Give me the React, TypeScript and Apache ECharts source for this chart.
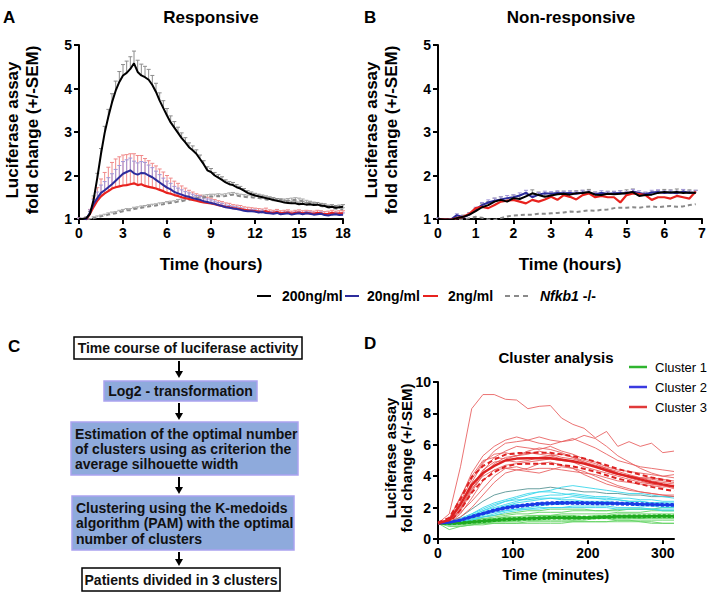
import React, { useEffect, useRef } from 'react';
import * as echarts from 'echarts';

const FONT = '"Liberation Sans", Arial, Helvetica, sans-serif';

// ---------- Panel A (Responsive), every 0.25 h ----------
const hoursA = Array.from({ length: 73 }, (_, i) => i * 0.25);
const a200 = [
  1.00, 1.00, 1.02, 1.12, 1.45, 1.95, 2.50, 2.98, 3.35, 3.68, 3.95, 4.15,
  4.30, 4.36, 4.45, 4.58, 4.38, 4.30, 4.26, 4.20, 4.08, 3.92, 3.72, 3.55,
  3.38, 3.22, 3.10, 2.98, 2.86, 2.76, 2.65, 2.58, 2.50, 2.38, 2.26, 2.12,
  2.08, 2.00, 1.95, 1.90, 1.84, 1.80, 1.78, 1.73, 1.70, 1.65, 1.60, 1.57,
  1.54, 1.52, 1.50, 1.48, 1.46, 1.44, 1.42, 1.40, 1.38, 1.37, 1.36, 1.36,
  1.34, 1.35, 1.33, 1.34, 1.32, 1.33, 1.31, 1.30, 1.27, 1.28, 1.26, 1.27,
  1.28,
];
const a200Sem = [
  0.02, 0.02, 0.03, 0.05, 0.08, 0.10, 0.12, 0.15, 0.17, 0.20, 0.22, 0.24,
  0.25, 0.27, 0.28, 0.28, 0.27, 0.26, 0.25, 0.24, 0.22, 0.20, 0.18, 0.17,
  0.16, 0.15, 0.14, 0.13, 0.12, 0.11, 0.10, 0.10, 0.09, 0.09, 0.08, 0.08,
  0.08, 0.07, 0.07, 0.07, 0.06, 0.06, 0.06, 0.06, 0.05, 0.05, 0.05, 0.05,
  0.05, 0.05, 0.05, 0.05, 0.05, 0.05, 0.05, 0.05, 0.05, 0.05, 0.05, 0.05,
  0.05, 0.05, 0.05, 0.05, 0.05, 0.05, 0.05, 0.05, 0.05, 0.05, 0.05, 0.05,
  0.05,
];
const a20 = [
  1.00, 0.99, 1.00, 1.15, 1.35, 1.48, 1.60, 1.66, 1.73, 1.80, 1.88, 1.96,
  2.04, 2.08, 2.12, 2.05, 2.02, 2.06, 2.05, 2.00, 1.96, 1.90, 1.84, 1.78,
  1.72, 1.68, 1.62, 1.59, 1.56, 1.53, 1.51, 1.48, 1.46, 1.44, 1.41, 1.39,
  1.37, 1.35, 1.32, 1.30, 1.27, 1.26, 1.24, 1.23, 1.21, 1.19, 1.18, 1.18,
  1.17, 1.15, 1.16, 1.14, 1.13, 1.12, 1.14, 1.11, 1.12, 1.13, 1.10, 1.12,
  1.13, 1.11, 1.13, 1.12, 1.10, 1.11, 1.12, 1.09, 1.08, 1.10, 1.11, 1.09,
  1.10,
];
const a20Sem = [
  0.02, 0.02, 0.03, 0.06, 0.10, 0.14, 0.18, 0.20, 0.22, 0.24, 0.26, 0.27,
  0.28, 0.28, 0.28, 0.28, 0.27, 0.26, 0.25, 0.24, 0.22, 0.20, 0.18, 0.16,
  0.15, 0.14, 0.13, 0.12, 0.11, 0.10, 0.09, 0.09, 0.08, 0.08, 0.07, 0.07,
  0.07, 0.06, 0.06, 0.06, 0.05, 0.05, 0.05, 0.05, 0.05, 0.04, 0.04, 0.04,
  0.04, 0.04, 0.04, 0.04, 0.04, 0.04, 0.04, 0.04, 0.04, 0.04, 0.04, 0.04,
  0.04, 0.04, 0.04, 0.04, 0.04, 0.04, 0.04, 0.04, 0.04, 0.04, 0.04, 0.04,
  0.04,
];
const a2 = [
  1.00, 0.98, 0.99, 1.12, 1.28, 1.42, 1.52, 1.59, 1.64, 1.70, 1.73, 1.75,
  1.77, 1.78, 1.80, 1.82, 1.78, 1.80, 1.76, 1.74, 1.72, 1.70, 1.67, 1.64,
  1.60, 1.58, 1.55, 1.53, 1.50, 1.48, 1.46, 1.44, 1.42, 1.40, 1.38, 1.37,
  1.36, 1.34, 1.32, 1.30, 1.28, 1.27, 1.25, 1.24, 1.23, 1.21, 1.20, 1.19,
  1.18, 1.17, 1.16, 1.18, 1.15, 1.14, 1.16, 1.13, 1.14, 1.15, 1.12, 1.14,
  1.15, 1.13, 1.14, 1.13, 1.12, 1.14, 1.13, 1.11, 1.12, 1.14, 1.12, 1.13,
  1.13,
];
const a2Sem = [
  0.02, 0.02, 0.04, 0.10, 0.20, 0.30, 0.40, 0.48, 0.55, 0.60, 0.65, 0.68,
  0.70, 0.70, 0.70, 0.68, 0.68, 0.66, 0.63, 0.60, 0.56, 0.52, 0.48, 0.44,
  0.40, 0.36, 0.32, 0.29, 0.26, 0.23, 0.20, 0.18, 0.16, 0.15, 0.14, 0.13,
  0.12, 0.11, 0.10, 0.10, 0.09, 0.09, 0.08, 0.08, 0.08, 0.07, 0.07, 0.07,
  0.07, 0.07, 0.07, 0.07, 0.06, 0.06, 0.06, 0.06, 0.06, 0.06, 0.06, 0.06,
  0.06, 0.06, 0.06, 0.06, 0.06, 0.06, 0.06, 0.06, 0.06, 0.06, 0.06, 0.06,
  0.06,
];
const aKo = [
  1.00, 0.98, 0.97, 0.99, 1.02, 1.04, 1.06, 1.08, 1.10, 1.12, 1.13, 1.16,
  1.18, 1.20, 1.20, 1.23, 1.24, 1.26, 1.27, 1.29, 1.30, 1.31, 1.33, 1.34,
  1.36, 1.37, 1.38, 1.40, 1.41, 1.43, 1.44, 1.46, 1.48, 1.49, 1.50, 1.51,
  1.52, 1.52, 1.53, 1.52, 1.53, 1.55, 1.56, 1.54, 1.52, 1.51, 1.50, 1.50,
  1.49, 1.48, 1.47, 1.45, 1.44, 1.43, 1.42, 1.42, 1.41, 1.42, 1.43, 1.44,
  1.43, 1.41, 1.38, 1.36, 1.34, 1.32, 1.30, 1.28, 1.27, 1.25, 1.24, 1.23,
  1.22,
];
const aKoSem = [
  0.01, 0.02, 0.02, 0.02, 0.03, 0.03, 0.03, 0.03, 0.04, 0.04, 0.04, 0.04,
  0.04, 0.04, 0.04, 0.04, 0.04, 0.04, 0.04, 0.04, 0.04, 0.04, 0.04, 0.04,
  0.04, 0.04, 0.04, 0.05, 0.05, 0.05, 0.05, 0.05, 0.05, 0.05, 0.05, 0.05,
  0.05, 0.05, 0.05, 0.05, 0.05, 0.05, 0.05, 0.05, 0.05, 0.05, 0.05, 0.05,
  0.05, 0.05, 0.05, 0.05, 0.05, 0.05, 0.05, 0.05, 0.05, 0.05, 0.05, 0.05,
  0.05, 0.05, 0.05, 0.05, 0.05, 0.05, 0.05, 0.04, 0.04, 0.04, 0.04, 0.04,
  0.04,
];

// ---------- Panel B (Non-responsive), every 10 min ----------
const hoursB = Array.from({ length: 42 }, (_, i) => i / 6);
const b200 = [
  1.00, 0.99, 0.98, 1.02, 1.05, 1.10, 1.18, 1.27, 1.32, 1.40, 1.44, 1.40,
  1.48, 1.46, 1.52, 1.59, 1.55, 1.51, 1.54, 1.57, 1.58, 1.56, 1.59, 1.60,
  1.62, 1.56, 1.55, 1.58, 1.57, 1.58, 1.60, 1.62, 1.53, 1.55, 1.56, 1.60,
  1.62, 1.61, 1.62, 1.60, 1.61, 1.60,
];
const b200Sem = [
  0.02, 0.02, 0.02, 0.03, 0.04, 0.05, 0.06, 0.08, 0.08, 0.08, 0.07, 0.07,
  0.07, 0.08, 0.08, 0.08, 0.07, 0.07, 0.06, 0.06, 0.06, 0.06, 0.06, 0.06,
  0.06, 0.06, 0.06, 0.06, 0.06, 0.07, 0.07, 0.07, 0.06, 0.06, 0.06, 0.06,
  0.06, 0.06, 0.07, 0.07, 0.06, 0.06,
];
const b20 = [
  1.00, 0.99, 0.98, 1.09, 1.04, 1.10, 1.22, 1.32, 1.38, 1.42, 1.45, 1.48,
  1.50, 1.54, 1.60, 1.50, 1.56, 1.59, 1.58, 1.60, 1.59, 1.60, 1.58, 1.61,
  1.60, 1.57, 1.60, 1.58, 1.59, 1.60, 1.58, 1.63, 1.60, 1.57, 1.61, 1.62,
  1.60, 1.61, 1.59, 1.63, 1.60, 1.61,
];
const b20Sem = [
  0.02, 0.02, 0.02, 0.03, 0.03, 0.04, 0.05, 0.06, 0.06, 0.06, 0.06, 0.06,
  0.06, 0.06, 0.06, 0.05, 0.05, 0.05, 0.05, 0.05, 0.05, 0.05, 0.05, 0.05,
  0.05, 0.05, 0.05, 0.05, 0.05, 0.05, 0.05, 0.05, 0.05, 0.05, 0.05, 0.05,
  0.05, 0.05, 0.05, 0.05, 0.05, 0.05,
];
const b2 = [
  1.00, 0.99, 0.98, 1.02, 1.05, 1.12, 1.25, 1.28, 1.25, 1.32, 1.40, 1.42,
  1.44, 1.40, 1.36, 1.44, 1.40, 1.45, 1.51, 1.44, 1.55, 1.51, 1.45, 1.55,
  1.59, 1.50, 1.53, 1.50, 1.50, 1.38, 1.55, 1.59, 1.57, 1.55, 1.44, 1.50,
  1.50, 1.47, 1.53, 1.50, 1.47, 1.63,
];
const bKo = [
  1.00, 0.99, 0.98, 0.99, 0.99, 1.02, 1.05, 1.03, 0.99, 0.98, 1.02, 1.06,
  1.08, 1.09, 1.10, 1.10, 1.12, 1.12, 1.13, 1.14, 1.15, 1.17, 1.16, 1.18,
  1.20, 1.19, 1.21, 1.22, 1.25, 1.26, 1.26, 1.27, 1.26, 1.28, 1.29, 1.27,
  1.29, 1.30, 1.28, 1.29, 1.32, 1.34,
];

// ---------- Panel D (Cluster analysis), every 15 min ----------
const minutesD = Array.from({ length: 22 }, (_, i) => i * 15);
const redPatients = [
  [1.0, 1.6, 4.6, 8.3, 9.2, 9.2, 8.9, 8.85, 8.3, 8.45, 8.5, 7.7, 7.3, 7.05, 6.45, 6.85, 5.9, 6.2, 5.9, 6.1, 5.5, 5.6],
  [1.0, 1.3, 2.6, 4.2, 5.3, 5.9, 6.3, 6.5, 6.3, 6.5, 6.3, 6.2, 6.4, 6.1, 5.8, 5.4, 5.0, 4.8, 4.6, 4.5, 4.4, 4.3],
  [1.0, 1.2, 2.2, 3.6, 4.8, 5.6, 6.1, 6.2, 6.3, 6.1, 6.0, 6.2, 6.3, 6.6, 6.4, 5.9, 5.3, 4.9, 4.5, 4.2, 4.0, 3.9],
  [1.0, 1.1, 1.9, 3.1, 4.3, 5.2, 5.6, 5.9, 5.8, 5.7, 5.9, 5.6, 5.4, 5.1, 4.9, 4.6, 4.4, 4.3, 4.2, 4.1, 4.0, 4.1],
  [1.0, 1.2, 2.4, 3.8, 4.9, 5.4, 5.5, 5.3, 5.4, 5.6, 5.4, 5.2, 5.1, 4.9, 4.7, 4.5, 4.3, 4.1, 3.9, 3.8, 3.7, 3.6],
  [1.0, 1.1, 1.8, 3.0, 4.1, 4.8, 5.2, 5.3, 5.5, 5.4, 5.3, 5.4, 5.2, 5.0, 4.8, 4.5, 4.2, 4.0, 3.9, 3.7, 3.6, 3.5],
  [1.0, 1.0, 1.6, 2.6, 3.7, 4.4, 4.7, 4.8, 4.9, 5.0, 5.1, 5.0, 4.9, 4.8, 4.6, 4.4, 4.2, 3.9, 3.7, 3.5, 3.4, 3.3],
  [1.0, 1.2, 2.0, 3.2, 4.0, 4.4, 4.5, 4.6, 4.4, 4.5, 4.5, 4.4, 4.3, 4.2, 4.1, 3.9, 3.7, 3.6, 3.5, 3.4, 3.3, 3.4],
  [1.0, 1.1, 1.7, 2.4, 3.2, 4.0, 4.5, 4.4, 4.3, 4.2, 4.4, 4.6, 4.5, 4.3, 4.0, 3.7, 3.4, 3.2, 3.0, 2.9, 2.8, 2.8],
  [1.0, 1.0, 1.4, 2.0, 2.8, 3.6, 4.2, 4.4, 4.5, 4.8, 4.9, 4.7, 4.5, 4.1, 3.8, 3.5, 3.3, 3.1, 3.0, 2.9, 2.8, 2.7],
  [1.0, 1.3, 2.7, 4.0, 5.0, 5.2, 5.1, 5.3, 5.6, 5.8, 5.7, 5.5, 5.2, 4.9, 4.6, 4.3, 4.1, 4.0, 3.9, 3.9, 3.8, 3.7],
  [1.0, 1.1, 1.9, 3.3, 4.4, 4.9, 5.0, 4.9, 5.0, 5.2, 5.3, 5.1, 4.9, 4.6, 4.4, 4.2, 4.0, 3.8, 3.6, 3.5, 3.4, 3.2],
];
const cyanPatients = [
  [1.0, 1.1, 1.4, 1.9, 2.4, 2.8, 3.0, 3.1, 3.2, 3.2, 3.3, 3.2, 3.1, 3.0, 3.0, 2.9, 2.9, 2.8, 2.8, 2.7, 2.7, 2.7],
  [1.0, 1.0, 1.2, 1.5, 1.8, 2.1, 2.4, 2.6, 2.8, 3.0, 3.1, 3.3, 3.4, 3.3, 3.2, 3.1, 3.0, 2.9, 2.9, 2.8, 2.7, 2.6],
  [1.0, 1.0, 1.1, 1.3, 1.6, 1.9, 2.1, 2.3, 2.4, 2.5, 2.6, 2.6, 2.7, 2.6, 2.6, 2.5, 2.5, 2.4, 2.4, 2.3, 2.3, 2.3],
  [1.0, 1.1, 1.3, 1.6, 1.9, 2.2, 2.4, 2.5, 2.5, 2.6, 2.6, 2.5, 2.5, 2.4, 2.4, 2.4, 2.3, 2.3, 2.2, 2.2, 2.2, 2.1],
  [1.0, 0.9, 1.0, 1.2, 1.4, 1.6, 1.8, 1.9, 2.0, 2.1, 2.2, 2.2, 2.3, 2.3, 2.3, 2.2, 2.2, 2.2, 2.1, 2.1, 2.0, 2.0],
  [1.0, 1.0, 1.2, 1.4, 1.7, 1.9, 2.1, 2.2, 2.2, 2.3, 2.3, 2.4, 2.4, 2.3, 2.3, 2.3, 2.3, 2.2, 2.2, 2.2, 2.1, 2.1],
  [1.0, 1.0, 1.1, 1.3, 1.5, 1.7, 1.8, 1.9, 1.9, 2.0, 2.0, 2.0, 2.0, 2.0, 2.0, 2.0, 1.9, 1.9, 1.9, 1.9, 1.8, 1.8],
  [1.0, 1.1, 1.2, 1.5, 1.8, 2.0, 2.2, 2.4, 2.6, 2.7, 2.8, 2.8, 2.9, 2.8, 2.7, 2.7, 2.6, 2.6, 2.5, 2.5, 2.4, 2.4],
  [1.0, 1.0, 1.1, 1.2, 1.4, 1.5, 1.7, 1.8, 1.9, 1.9, 2.0, 2.0, 2.1, 2.1, 2.1, 2.1, 2.0, 2.0, 2.0, 1.9, 1.9, 1.9],
  [1.0, 1.0, 1.3, 1.6, 2.0, 2.3, 2.5, 2.7, 2.9, 3.0, 3.0, 2.9, 2.8, 2.7, 2.6, 2.6, 2.5, 2.4, 2.4, 2.3, 2.3, 2.2],
];
const greenPatients = [
  [1.0, 0.6, 0.8, 0.9, 1.0, 1.1, 1.1, 1.2, 1.2, 1.2, 1.3, 1.3, 1.2, 1.3, 1.3, 1.3, 1.2, 1.2, 1.1, 1.1, 1.0, 1.0],
  [1.0, 1.0, 1.1, 1.2, 1.3, 1.4, 1.5, 1.6, 1.6, 1.7, 1.7, 1.7, 1.8, 1.8, 1.8, 1.8, 1.9, 1.9, 1.9, 1.9, 2.0, 2.0],
  [1.0, 0.9, 0.9, 1.0, 1.0, 1.1, 1.1, 1.1, 1.2, 1.2, 1.2, 1.2, 1.2, 1.2, 1.3, 1.3, 1.3, 1.3, 1.3, 1.4, 1.4, 1.4],
  [1.0, 1.0, 1.0, 1.1, 1.2, 1.3, 1.4, 1.4, 1.5, 1.5, 1.5, 1.6, 1.6, 1.6, 1.6, 1.6, 1.7, 1.7, 1.7, 1.8, 1.8, 1.8],
  [1.0, 0.9, 0.9, 0.9, 1.0, 1.0, 1.0, 1.0, 1.1, 1.1, 1.1, 1.1, 1.1, 1.1, 1.1, 1.1, 1.2, 1.2, 1.2, 1.2, 1.2, 1.2],
  [1.0, 1.0, 1.1, 1.2, 1.3, 1.3, 1.4, 1.4, 1.4, 1.5, 1.5, 1.5, 1.5, 1.4, 1.5, 1.5, 1.6, 1.6, 1.6, 1.6, 1.6, 1.6],
  [1.0, 0.9, 1.0, 1.0, 1.1, 1.1, 1.2, 1.2, 1.3, 1.3, 1.4, 1.4, 1.3, 1.4, 1.4, 1.4, 1.5, 1.5, 1.5, 1.5, 1.5, 1.5],
  [1.0, 1.1, 1.2, 1.3, 1.4, 1.5, 1.6, 1.7, 1.8, 1.8, 1.9, 1.9, 1.9, 1.9, 1.8, 1.8, 1.8, 1.9, 1.9, 1.9, 1.8, 1.8],
  [1.0, 0.8, 0.8, 0.9, 0.9, 1.0, 1.0, 1.0, 1.0, 1.0, 1.0, 1.0, 1.1, 1.1, 1.1, 1.1, 1.1, 1.1, 1.1, 1.0, 1.0, 1.0],
  [1.0, 1.0, 1.0, 1.1, 1.1, 1.2, 1.3, 1.3, 1.3, 1.4, 1.4, 1.4, 1.4, 1.4, 1.3, 1.4, 1.4, 1.4, 1.3, 1.3, 1.3, 1.3],
];
const redMean = [1.0, 1.2, 2.2, 3.45, 4.2, 4.65, 5.0, 5.12, 5.14, 5.15, 5.14, 5.05, 4.95, 4.8, 4.6, 4.38, 4.15, 3.98, 3.8, 3.62, 3.48, 3.35];
const redSem = [0.05, 0.15, 0.35, 0.5, 0.45, 0.4, 0.38, 0.35, 0.35, 0.35, 0.35, 0.34, 0.33, 0.33, 0.32, 0.32, 0.31, 0.3, 0.3, 0.3, 0.3, 0.3];
const blueMean = [1.0, 1.05, 1.2, 1.42, 1.62, 1.82, 1.98, 2.08, 2.17, 2.24, 2.28, 2.3, 2.3, 2.29, 2.28, 2.27, 2.26, 2.24, 2.22, 2.2, 2.18, 2.17];
const blueSem = [0.01, 0.03, 0.04, 0.05, 0.05, 0.06, 0.06, 0.06, 0.06, 0.06, 0.06, 0.06, 0.06, 0.06, 0.06, 0.06, 0.06, 0.06, 0.06, 0.06, 0.06, 0.06];
const greenMean = [1.0, 0.98, 1.02, 1.08, 1.14, 1.2, 1.25, 1.28, 1.3, 1.33, 1.35, 1.35, 1.36, 1.36, 1.37, 1.4, 1.43, 1.44, 1.44, 1.45, 1.46, 1.45];
const greenSem = [0.01, 0.03, 0.04, 0.04, 0.05, 0.05, 0.05, 0.05, 0.05, 0.05, 0.05, 0.05, 0.05, 0.05, 0.05, 0.05, 0.05, 0.05, 0.05, 0.05, 0.05, 0.05];

const ticksD = [0, 100, 200, 300];

const legendTop = ['200ng/ml', '20ng/ml', '2ng/ml'];
const legendD = ['Cluster 1', 'Cluster 2', 'Cluster 3'];

// ---------- helpers ----------
const pairs = (xs: number[], ys: number[]) => xs.map((x, i) => [x, ys[i]]);
const triples = (xs: number[], ys: number[], es: number[]) => xs.map((x, i) => [x, ys[i], es[i]]);

function axisStyle(extra: any) {
  return {
    type: 'value',
    axisLine: { show: true, onZero: false, lineStyle: { color: '#000', width: 2 } },
    axisTick: { show: true, inside: false, length: 5, lineStyle: { color: '#000', width: 2 } },
    axisLabel: { color: '#000', fontFamily: FONT, fontWeight: 'bold', fontSize: 14, margin: 7 },
    splitLine: { show: false },
    ...extra,
  };
}

function line(gi: number, data: any[], color: string, width: number, z: number, dashed?: any) {
  return {
    type: 'line',
    xAxisIndex: gi,
    yAxisIndex: gi,
    data,
    showSymbol: false,
    symbol: 'none',
    silent: true,
    animation: false,
    z,
    lineStyle: { color, width, type: dashed || 'solid' },
  };
}

function errBars(gi: number, data: any[], color: string, z: number) {
  return {
    type: 'custom',
    xAxisIndex: gi,
    yAxisIndex: gi,
    data,
    silent: true,
    z,
    encode: { x: 0, y: 1 },
    renderItem: (params: any, api: any) => {
      const x = api.value(0);
      const v = api.value(1);
      const s = api.value(2);
      const p0 = api.coord([x, v]);
      const p1 = api.coord([x, v + s]);
      return {
        type: 'group',
        children: [
          { type: 'line', shape: { x1: p0[0], y1: p0[1], x2: p1[0], y2: p1[1] }, style: { stroke: color, lineWidth: 1 } },
          { type: 'line', shape: { x1: p1[0] - 2, y1: p1[1], x2: p1[0] + 2, y2: p1[1] }, style: { stroke: color, lineWidth: 1 } },
        ],
      };
    },
  };
}

function txt(x: number, y: number, text: string, opts: any = {}) {
  const align = opts.align || 'center';
  const valign = opts.verticalAlign || 'middle';
  return {
    type: 'text',
    x,
    y,
    rotation: opts.rotation || 0,
    silent: true,
    z: 100,
    style: {
      text,
      align,
      verticalAlign: valign,
      textAlign: align,
      textVerticalAlign: valign,
      fontFamily: FONT,
      fontSize: opts.fontSize || 14,
      fontWeight: opts.fontWeight || 'bold',
      fontStyle: opts.fontStyle || 'normal',
      lineHeight: opts.lineHeight,
      fill: opts.fill || '#000',
      rich: opts.rich,
    },
  };
}

function box(x1: number, y1: number, x2: number, y2: number, fill: string, stroke: string, lw: number) {
  return {
    type: 'rect',
    silent: true,
    z: 90,
    shape: { x: x1, y: y1, width: x2 - x1, height: y2 - y1 },
    style: { fill, stroke, lineWidth: lw },
  };
}

function arrow(x: number, y1: number, y2: number) {
  return [
    { type: 'line', silent: true, z: 90, shape: { x1: x, y1, x2: x, y2: y2 - 5 }, style: { stroke: '#000', lineWidth: 2 } },
    { type: 'polygon', silent: true, z: 90, shape: { points: [[x - 4, y2 - 7], [x + 4, y2 - 7], [x, y2]] }, style: { fill: '#000' } },
  ];
}

function legLine(x1: number, x2: number, y: number, color: string, width: number, dash?: number[]) {
  return {
    type: 'line',
    silent: true,
    z: 100,
    shape: { x1, y1: y, x2, y2: y },
    style: { stroke: color, lineWidth: width, lineDash: dash },
  };
}

function buildOption() {
  const C_BLACK = '#000000';
  const C_BLUE = '#2c2c9c';
  const C_RED = '#e8221e';
  const C_GRAY = '#8a8a8a';

  const series: any[] = [];
  // Panel A
  series.push(errBars(0, triples(hoursA, aKo, aKoSem), '#a8a8a8', 2));
  series.push(errBars(0, triples(hoursA, a200, a200Sem), '#8c8c8c', 2));
  series.push(errBars(0, triples(hoursA, a2, a2Sem), '#f08a8a', 3));
  series.push(errBars(0, triples(hoursA, a20, a20Sem), '#a296d8', 3));
  series.push(line(0, pairs(hoursA, aKo), C_GRAY, 2, 4, [4, 3]));
  series.push(line(0, pairs(hoursA, a2), C_RED, 2.2, 5));
  series.push(line(0, pairs(hoursA, a20), C_BLUE, 2, 6));
  series.push(line(0, pairs(hoursA, a200), C_BLACK, 2, 7));
  // Panel B
  series.push(errBars(1, triples(hoursB, b200, b200Sem), '#8c8c8c', 2));
  series.push(errBars(1, triples(hoursB, b20, b20Sem), '#a296d8', 2));
  series.push(line(1, pairs(hoursB, bKo), C_GRAY, 2, 4, [4, 3]));
  series.push(line(1, pairs(hoursB, b20), C_BLUE, 2, 5));
  series.push(line(1, pairs(hoursB, b2), C_RED, 2.2, 6));
  series.push(line(1, pairs(hoursB, b200), C_BLACK, 2, 7));
  // Panel D
  greenPatients.forEach((p) => series.push(line(2, pairs(minutesD, p), 'rgba(100,212,100,0.9)', 1, 2)));
  cyanPatients.forEach((p, i) => series.push(line(2, pairs(minutesD, p), i === 0 ? 'rgba(90,150,150,0.9)' : 'rgba(60,215,235,0.9)', 1, 2)));
  redPatients.forEach((p) => series.push(line(2, pairs(minutesD, p), 'rgba(232,90,90,0.85)', 1, 3)));
  const up = (m: number[], s: number[]) => m.map((v, i) => v + s[i]);
  const dn = (m: number[], s: number[]) => m.map((v, i) => v - s[i]);
  series.push(line(2, pairs(minutesD, up(greenMean, greenSem)), '#1faa1f', 2, 5, [3, 2]));
  series.push(line(2, pairs(minutesD, dn(greenMean, greenSem)), '#1faa1f', 2, 5, [3, 2]));
  series.push(line(2, pairs(minutesD, greenMean), '#1faa1f', 2.5, 6));
  series.push(line(2, pairs(minutesD, up(blueMean, blueSem)), '#1a3ae6', 2, 5, [3, 2]));
  series.push(line(2, pairs(minutesD, dn(blueMean, blueSem)), '#1a3ae6', 2, 5, [3, 2]));
  series.push(line(2, pairs(minutesD, blueMean), '#1a3ae6', 2.5, 6));
  series.push(line(2, pairs(minutesD, up(redMean, redSem)), '#dd2222', 2, 5, [5, 3]));
  series.push(line(2, pairs(minutesD, dn(redMean, redSem)), '#dd2222', 2, 5, [5, 3]));
  series.push(line(2, pairs(minutesD, redMean), '#dd2222', 2.5, 6));

  const graphic: any[] = [];
  // panel letters
  graphic.push(txt(3, 17, 'A', { align: 'left', fontSize: 17 }));
  graphic.push(txt(364, 17, 'B', { align: 'left', fontSize: 17 }));
  graphic.push(txt(8, 346, 'C', { align: 'left', fontSize: 17 }));
  graphic.push(txt(364, 343, 'D', { align: 'left', fontSize: 17 }));
  // titles
  graphic.push(txt(211, 17, 'Responsive', { fontSize: 17 }));
  graphic.push(txt(571, 17, 'Non-responsive', { fontSize: 17 }));
  graphic.push(txt(556, 357, 'Cluster analysis', { fontSize: 15 }));
  // axis names
  const yName = 'Luciferase assay\nfold change (+/-SEM)';
  graphic.push(txt(22, 130, yName, { fontSize: 17, lineHeight: 20, rotation: Math.PI / 2 }));
  graphic.push(txt(381, 130, yName, { fontSize: 17, lineHeight: 20, rotation: Math.PI / 2 }));
  graphic.push(txt(398, 458, yName, { fontSize: 15, lineHeight: 16, rotation: Math.PI / 2 }));
  graphic.push(txt(211, 264, 'Time (hours)', { fontSize: 17 }));
  graphic.push(txt(570, 264, 'Time (hours)', { fontSize: 17 }));
  graphic.push(txt(556, 574, 'Time (minutes)', { fontSize: 15 }));
  // top legend
  const ly = 296;
  graphic.push(legLine(257, 271, ly, C_BLACK, 2));
  graphic.push(txt(282, ly, legendTop[0], { align: 'left' }));
  graphic.push(legLine(345, 359, ly, C_BLUE, 2));
  graphic.push(txt(367, ly, legendTop[1], { align: 'left' }));
  graphic.push(legLine(423, 438, ly, C_RED, 2));
  graphic.push(txt(448, ly, legendTop[2], { align: 'left' }));
  graphic.push(legLine(505, 531, ly, C_GRAY, 2, [5, 4]));
  graphic.push(txt(540, ly, '{i|Nfkb1} -/-', {
    align: 'left',
    rich: { i: { fontStyle: 'italic', fontWeight: 'bold', fontSize: 14, fontFamily: FONT, fill: '#000' } },
  }));
  // panel D legend
  const dColors = ['#2fb52f', '#3a3ae0', '#e03a3a'];
  legendD.forEach((name, i) => {
    const y = 367 + i * 20;
    graphic.push(legLine(629, 647, y, dColors[i], 2.5));
    graphic.push(txt(655, y, name, { align: 'left', fontWeight: 'normal', fontSize: 13 }));
  });
  // flowchart (panel C)
  const BFILL = '#8eaadc';
  const BSTROKE = '#aaa2f0';
  graphic.push(box(74, 337, 302, 359, '#ffffff', '#000000', 1.5));
  graphic.push(txt(188, 348, 'Time course of luciferase activity', { fill: '#111' }));
  graphic.push(...arrow(179, 361, 378));
  graphic.push(box(104, 381, 257, 401, BFILL, BSTROKE, 1.5));
  graphic.push(txt(180.5, 391, 'Log2 - transformation', { fill: '#111' }));
  graphic.push(...arrow(179, 403, 420));
  graphic.push(box(71, 422, 298, 475, BFILL, BSTROKE, 1.5));
  graphic.push(txt(75, 448.5, 'Estimation of the optimal number\nof clusters using as criterion the\naverage silhouette width', { align: 'left', lineHeight: 15, fill: '#111' }));
  graphic.push(...arrow(179, 477, 494));
  graphic.push(box(72, 496, 294, 550, BFILL, BSTROKE, 1.5));
  graphic.push(txt(76, 523, 'Clustering using the K-medoids\nalgorithm (PAM) with the optimal\nnumber of clusters', { align: 'left', lineHeight: 15.5, fill: '#111' }));
  graphic.push(...arrow(179, 552, 566));
  graphic.push(box(82, 568, 280, 591, '#ffffff', '#000000', 1.5));
  graphic.push(txt(181, 580, 'Patients divided in 3 clusters', { fill: '#111' }));

  return {
    animation: false,
    backgroundColor: '#ffffff',
    textStyle: { fontFamily: FONT },
    grid: [
      { left: 79, top: 45, width: 264, height: 174, outerBoundsMode: 'none' },
      { left: 438, top: 45, width: 264, height: 174, outerBoundsMode: 'none' },
      { left: 438, top: 382, width: 236, height: 157, outerBoundsMode: 'none' },
    ],
    xAxis: [
      axisStyle({ gridIndex: 0, min: 0, max: 18, interval: 3 }),
      axisStyle({ gridIndex: 1, min: 0, max: 7, interval: 1 }),
      axisStyle({
        gridIndex: 2, min: 0, max: 315,
        axisTick: { show: true, length: 5, customValues: ticksD, lineStyle: { color: '#000', width: 2 } },
        axisLabel: { color: '#000', fontFamily: FONT, fontWeight: 'bold', fontSize: 14, margin: 7, customValues: ticksD },
      }),
    ],
    yAxis: [
      axisStyle({ gridIndex: 0, min: 1, max: 5, interval: 1 }),
      axisStyle({ gridIndex: 1, min: 1, max: 5, interval: 1 }),
      axisStyle({ gridIndex: 2, min: 0, max: 10, interval: 2 }),
    ],
    series,
    graphic: { elements: graphic },
  };
}

export default function App() {
  const ref = useRef<HTMLDivElement>(null);
  useEffect(() => {
    if (!ref.current) return;
    const chart = echarts.init(ref.current, null, { renderer: 'svg' });
    chart.setOption(buildOption() as any);
    return () => chart.dispose();
  }, []);
  return (
    <div
      ref={ref}
      style={{ position: 'absolute', left: 0, top: 0, width: 709, height: 594, background: '#fff' }}
    />
  );
}
